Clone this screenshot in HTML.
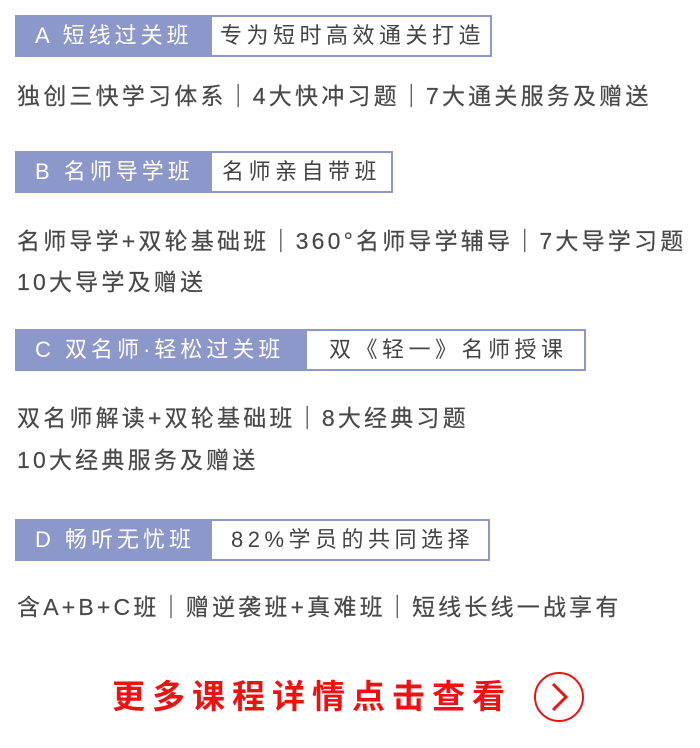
<!DOCTYPE html>
<html><head><meta charset="utf-8"><style>
body{margin:0;width:700px;height:748px;background:#fff;position:relative;overflow:hidden;font-family:"Liberation Sans","Noto Sans CJK SC",sans-serif}
.box{position:absolute;left:15px;height:42px;border:2px solid #8c98c9;box-sizing:border-box;background:#fff}
.box .l{position:absolute;left:0;top:0;bottom:0;background:#8c98c9;color:#fff;font-size:22px;line-height:38px;letter-spacing:4px;padding-left:18px;white-space:nowrap;box-sizing:border-box}
.box .r{position:absolute;top:0;bottom:0;color:#444;font-size:22px;line-height:38px;letter-spacing:4.5px;white-space:nowrap}
.t{position:absolute;left:17px;font-size:23px;color:#484848;letter-spacing:3.2px;white-space:nowrap;line-height:30px;-webkit-text-stroke:0.2px #484848}
.red{position:absolute;left:112px;top:676px;font-size:33px;font-weight:bold;color:#ee1111;letter-spacing:7px;line-height:42px;white-space:nowrap}
</style></head><body>
<div class="box" style="top:15px;width:477px"><div class="l" style="width:195px">A 短线过关班</div><div class="r" style="left:203px">专为短时高效通关打造</div></div>
<div class="t" style="top:81px">独创三快学习体系｜4大快冲习题｜7大通关服务及赠送</div>

<div class="box" style="top:151px;width:378px"><div class="l" style="width:195px">B 名师导学班</div><div class="r" style="left:205px">名师亲自带班</div></div>
<div class="t" style="top:226px">名师导学+双轮基础班｜360°名师导学辅导｜7大导学习题</div>
<div class="t" style="top:267px">10大导学及赠送</div>

<div class="box" style="top:329px;width:571px"><div class="l" style="width:290px">C 双名师·轻松过关班</div><div class="r" style="left:312px">双《轻一》名师授课</div></div>
<div class="t" style="top:403px">双名师解读+双轮基础班｜8大经典习题</div>
<div class="t" style="top:445px">10大经典服务及赠送</div>

<div class="box" style="top:519px;width:475px"><div class="l" style="width:195px">D 畅听无忧班</div><div class="r" style="left:214px">82%学员的共同选择</div></div>
<div class="t" style="top:592px">含A+B+C班｜赠逆袭班+真难班｜短线长线一战享有</div>

<div class="red">更多课程详情点击查看</div>
<svg style="position:absolute;left:532px;top:671px" width="54" height="54" viewBox="0 0 54 54"><circle cx="27" cy="26" r="24" fill="none" stroke="#ee1111" stroke-width="2"/><polyline points="21,13 34,26 21,39" fill="none" stroke="#ee1111" stroke-width="3"/></svg>
</body></html>
